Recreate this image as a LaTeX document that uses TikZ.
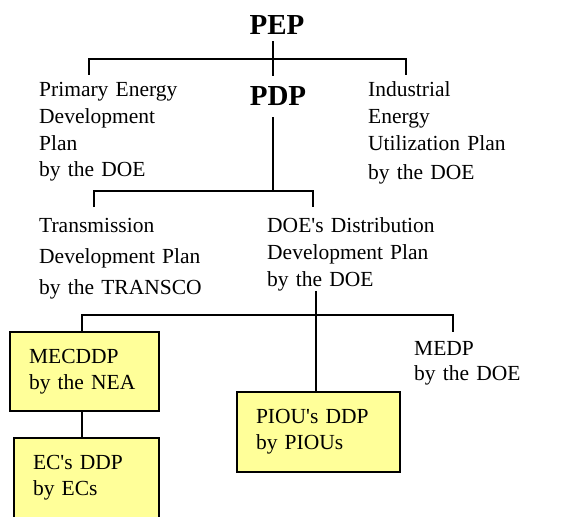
\documentclass[tikz,border=0pt]{standalone}
\usepackage{fontspec}
\setmainfont{Liberation Serif}
\definecolor{planfill}{HTML}{FFFF99}
\begin{document}
\begin{tikzpicture}[x=1pt,y=-1pt,
  wire/.style={line width=2pt},
  head/.style={anchor=base, inner xsep=0pt, text depth=0pt,
    font=\fontsize{29}{34}\selectfont\bfseries},
  plain/.style={anchor=base west, inner sep=0pt, text width=#1, align=left,
    font=\fontsize{21.5}{26.5}\selectfont},
  plan/.style={draw=black, line width=2pt, fill=planfill, anchor=base west,
    inner ysep=0pt, inner xsep=19pt, align=left,
    font=\fontsize{21.5}{26.5}\selectfont}
]
\useasboundingbox (0,0) rectangle (564,516);
\clip (0,0) rectangle (564,516);

% headings
\node[head, inner ysep=6pt]  (pep) at (277,35)  {PEP};
\node[head, inner ysep=11pt] (pdp) at (278,106) {PDP};

% plain text plans
\node[plain=170] (pe)   at (39,97)   {Primary Energy\\Development\\Plan\\by the DOE};
\node[plain=190] (iu)   at (368,97)  {Industrial\\Energy\\Utilization Plan\\[3pt]by the DOE};
\node[plain=200, font=\fontsize{21.5}{31}\selectfont]
                 (tdp)  at (39,232)  {Transmission\\Development Plan\\by the TRANSCO};
\node[plain=220, font=\fontsize{21.5}{27}\selectfont]
                 (ddp)  at (267,232) {DOE\textquotesingle s Distribution\\Development Plan\\by the DOE};
\node[plain=150, font=\fontsize{21.5}{25.5}\selectfont]
                 (medp) at (414,355) {MEDP\\by the DOE};

% boxed plans
\node[plan, text width=111pt, text height=31pt, text depth=48pt]
  (mec)  at (9,363)   {MECDDP\\by the NEA};
\node[plan, text width=107pt, text height=31pt, text depth=61pt]
  (ec)   at (13,469)  {EC\textquotesingle s DDP\\by ECs};
\node[plan, text width=125pt, text height=31pt, text depth=49pt]
  (piou) at (236,423) {PIOU\textquotesingle s DDP\\by PIOUs};

% junctions and branch ends
\coordinate (j1) at (273,59);
\coordinate (l1) at (89,75);
\coordinate (r1) at (406,75);
\coordinate (j2) at (273,191);
\coordinate (l2) at (94,207);
\coordinate (r2) at (313,207);
\coordinate (j3) at (316,315);
\coordinate (l3) at (82,315);
\coordinate (r3) at (453,332);

% PEP level
\draw[wire] (pep.south -| j1) -- (pdp.north -| j1);
\draw[wire] (l1) |- (j1) -| (r1);

% PDP level
\draw[wire] (pdp.south -| j2) -- (j2);
\draw[wire] (l2) |- (j2) -| (r2);

% distribution level
\draw[wire] (ddp.south -| j3) -- (piou.north -| j3);
\draw[wire] (mec.north -| l3) |- (j3) -| (r3);
\draw[wire] (mec.south -| l3) -- (ec.north -| l3);
\end{tikzpicture}
\end{document}
